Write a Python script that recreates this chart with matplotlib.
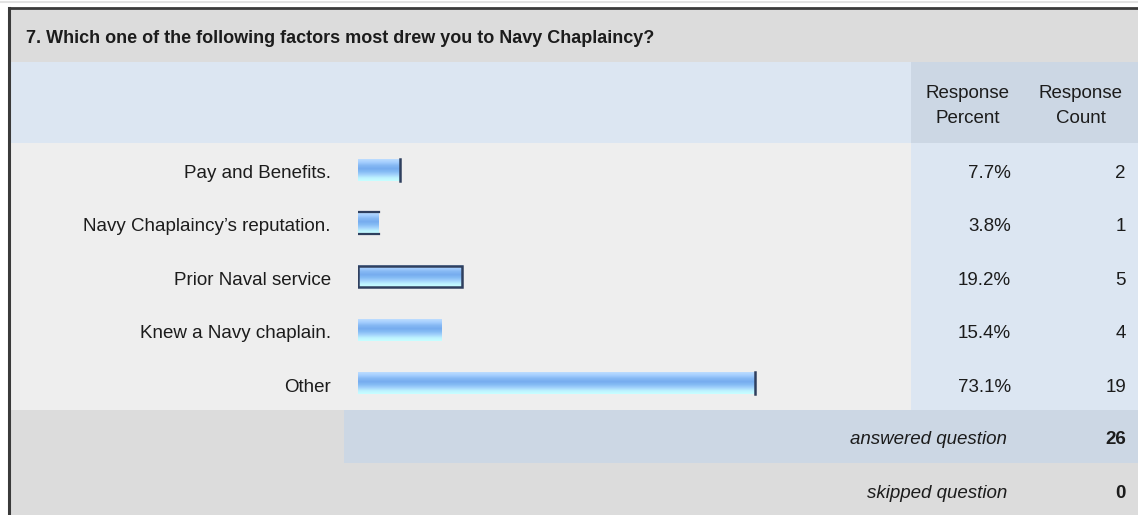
import numpy as np
import matplotlib.pyplot as plt
from matplotlib.patches import Rectangle
from matplotlib.colors import LinearSegmentedColormap

plt.rcParams['font.family'] = ['Liberation Sans', 'DejaVu Sans']

title = "7. Which one of the following factors most drew you to Navy Chaplaincy?"
categories = ["Pay and Benefits.", "Navy Chaplaincy\u2019s reputation.", "Prior Naval service",
              "Knew a Navy chaplain.", "Other"]
percent = [7.7, 3.8, 19.2, 15.4, 73.1]
counts = [2, 1, 5, 4, 19]
answered = 26
skipped = 0

W, H = 1138, 515
fig = plt.figure(figsize=(W / 100, H / 100), dpi=100)
ax = fig.add_axes([0, 0, 1, 1])
ax.set_xlim(0, W)
ax.set_ylim(H, 0)
ax.axis('off')

def box(x0, y0, x1, y1, c):
    ax.add_patch(Rectangle((x0, y0), x1 - x0, y1 - y0, facecolor=c, edgecolor='none', zorder=0))

# table backgrounds
box(0, 0, W, H, 'white')
ax.plot([0, W], [1.5, 1.5], color='#e2e2e2', lw=1.5)
box(9, 8, W, 62, '#dcdcdc')
box(9, 62, 911, 143, '#dce6f2')
box(911, 62, W, 143, '#ccd7e4')
box(9, 143, 911, 410, '#eeeeee')
box(911, 143, W, 410, '#dce6f2')
box(9, 410, 344, 463, '#dcdcdc')
box(344, 410, W, 463, '#ccd7e4')
box(9, 463, W, H, '#dcdcdc')
ax.plot([9, W], [8, 8], color='#3a3a3a', lw=2)
ax.plot([9.5, 9.5], [8, H], color='#3a3a3a', lw=2.2)

txt = '#1c1c1c'
fs = 13.5
ax.text(26, 43, title, fontsize=13, fontweight='bold', color=txt, va='baseline', ha='left')
ax.text(968, 98, "Response", fontsize=fs, color=txt, ha='center', va='baseline')
ax.text(968, 123, "Percent", fontsize=fs, color=txt, ha='center', va='baseline')
ax.text(1081, 98, "Response", fontsize=fs, color=txt, ha='center', va='baseline')
ax.text(1081, 123, "Count", fontsize=fs, color=txt, ha='center', va='baseline')

row_top, row_h = 143, 53.4
for i, (cat, p, c) in enumerate(zip(categories, percent, counts)):
    yb = row_top + row_h * (i + 0.5) + 8.3
    ax.text(331, yb, cat, fontsize=fs, color=txt, ha='right', va='baseline')
    ax.text(1011, yb, f"{p}%", fontsize=fs, color=txt, ha='right', va='baseline')
    ax.text(1126, yb, str(c), fontsize=fs, color=txt, ha='right', va='baseline')

ax.text(1007, 444, "answered question", fontsize=fs, style='italic', color=txt, ha='right', va='baseline')
ax.text(1126, 444, str(answered), fontsize=fs, fontweight='bold', color=txt, ha='right', va='baseline')
ax.text(1007, 498, "skipped question", fontsize=fs, style='italic', color=txt, ha='right', va='baseline')
ax.text(1126, 498, str(skipped), fontsize=fs, fontweight='bold', color=txt, ha='right', va='baseline')

# bars in their own axes: x in percent, 358px = 0%, 901px = 100%
bx = fig.add_axes([358 / W, 1 - 410 / H, (901 - 358) / W, (410 - 143) / H])
bx.axis('off')
grad_cmap = LinearSegmentedColormap.from_list('bar', ['#bcdcff', '#a4cefe', '#86b9f4', '#76acef',
                                                     '#84bbf4', '#a2d2fc', '#bdf2ff', '#c8ffff'])
grad = np.linspace(0, 1, 64).reshape(-1, 1)
bh = 0.41
edges = ['r', 'tb', 'box', '', 'r']
ec = '#2f3f5e'
for i, p in enumerate(percent):
    bx.imshow(grad, cmap=grad_cmap, extent=[0, p, i + bh / 2, i - bh / 2],
              aspect='auto', interpolation='bilinear')
    if edges[i] == 'box':
        bx.add_patch(Rectangle((0, i - bh / 2), p, bh, facecolor='none', edgecolor=ec, lw=1.8))
    if edges[i] == 'r':
        bx.plot([p, p], [i - bh / 2, i + bh / 2], color=ec, lw=1.8)
    if edges[i] == 'tb':
        bx.plot([0, p], [i - bh / 2, i - bh / 2], color=ec, lw=1.6)
        bx.plot([0, p], [i + bh / 2, i + bh / 2], color=ec, lw=1.6)
bx.set_xlim(0, 100)
bx.set_ylim(len(percent) - 0.5, -0.5)

fig.savefig('out.png', dpi=100)
